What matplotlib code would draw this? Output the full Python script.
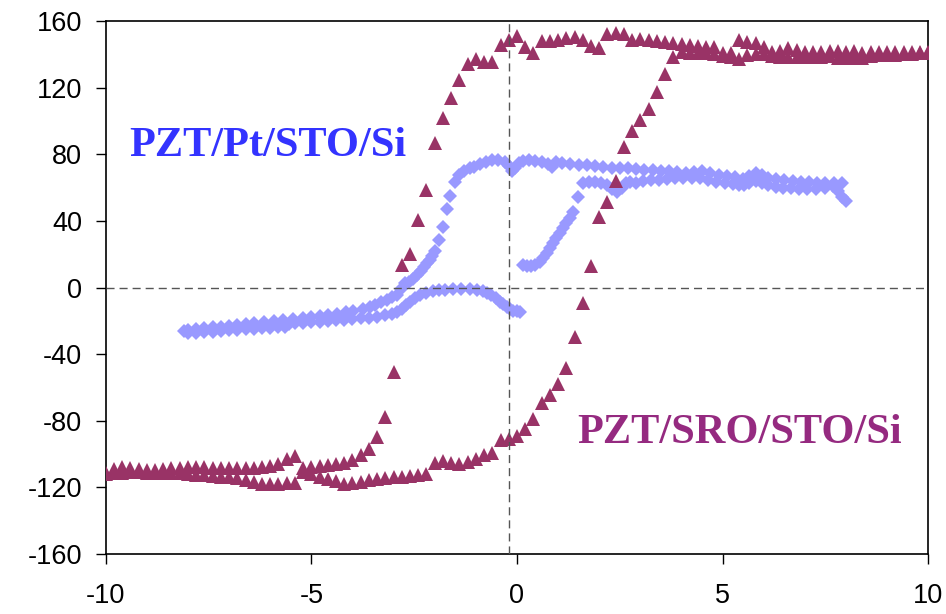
import matplotlib
matplotlib.use("Agg")
import matplotlib.pyplot as plt

plt.rcParams['font.family'] = ['Liberation Sans', 'DejaVu Sans']
plt.rcParams['axes.unicode_minus'] = False

# field sweep shared by both PZT/SRO/STO/Si branches
field = [-10.0, -9.8, -9.6, -9.4, -9.2, -9.0, -8.8, -8.6, -8.4, -8.2,
         -8.0, -7.8, -7.6, -7.4, -7.2, -7.0, -6.8, -6.6, -6.4, -6.2,
         -6.0, -5.8, -5.6, -5.4, -5.2, -5.0, -4.8, -4.6, -4.4, -4.2,
         -4.0, -3.8, -3.6, -3.4, -3.2, -3.0, -2.8, -2.6, -2.4, -2.2,
         -2.0, -1.8, -1.6, -1.4, -1.2, -1.0, -0.8, -0.6, -0.4, -0.2,
         0.0, 0.2, 0.4, 0.6, 0.8, 1.0, 1.2, 1.4, 1.6, 1.8,
         2.0, 2.2, 2.4, 2.6, 2.8, 3.0, 3.2, 3.4, 3.6, 3.8,
         4.0, 4.2, 4.4, 4.6, 4.8, 5.0, 5.2, 5.4, 5.6, 5.8,
         6.0, 6.2, 6.4, 6.6, 6.8, 7.0, 7.2, 7.4, 7.6, 7.8,
         8.0, 8.2, 8.4, 8.6, 8.8, 9.0, 9.2, 9.4, 9.6, 9.8, 10.0]

# PZT/SRO/STO/Si, first branch (switches near -3)
sro_a = [-111.2, -109.2, -107.8, -108.2, -108.8, -109.6, -109.6, -108.8, -108.2, -108.2,
         -107.6, -107.6, -107.6, -108.2, -108.2, -108.2, -108.2, -108.2, -108.2, -107.8,
         -107.0, -106.2, -103.2, -101.2, -108.4, -107.6, -107.2, -106.6, -106.2, -105.2,
         -103.4, -100.4, -96.8, -90.0, -77.6, -50.8, 13.5, 20.1, 40.5, 58.5,
         86.6, 101.6, 113.6, 124.6, 134.0, 137.0, 135.4, 135.4, 145.3, 148.6,
         150.8, 144.6, 140.8, 147.8, 147.8, 148.6, 149.6, 150.6, 148.6, 145.0,
         143.6, 151.9, 152.9, 152.4, 148.8, 149.0, 148.4, 148.2, 147.6, 146.6,
         146.2, 145.6, 145.0, 144.6, 144.4, 140.6, 140.6, 148.6, 147.6, 146.6,
         144.2, 141.6, 142.2, 143.6, 142.6, 141.6, 141.6, 141.6, 142.2, 142.2,
         141.6, 142.2, 140.6, 141.6, 141.6, 141.6, 141.6, 141.6, 141.6, 141.6, 141.6]

# PZT/SRO/STO/Si, second branch (switches near +2)
sro_b = [-112.0, -111.6, -111.2, -111.0, -111.0, -111.2, -111.2, -111.2, -111.4, -111.6,
         -112.0, -112.4, -112.8, -113.2, -113.6, -114.0, -114.6, -115.6, -117.0, -118.0,
         -118.2, -118.0, -117.6, -117.6, -110.6, -112.2, -113.6, -115.2, -116.4, -118.2,
         -117.6, -116.6, -115.6, -115.2, -114.6, -114.0, -113.6, -113.2, -112.6, -112.0,
         -105.6, -104.2, -105.2, -106.0, -104.8, -102.8, -100.8, -99.4, -91.8, -91.0,
         -89.2, -84.8, -79.0, -69.6, -64.5, -58.0, -48.5, -29.9, -9.1, 12.9,
         42.5, 51.5, 64.1, 84.2, 94.2, 100.6, 107.0, 117.6, 128.2, 138.6,
         141.6, 141.0, 140.6, 140.6, 140.0, 139.0, 138.6, 137.0, 139.6, 140.0,
         140.0, 139.2, 138.5, 138.3, 138.3, 138.3, 138.5, 138.6, 138.8, 137.6,
         137.6, 137.6, 138.0, 139.0, 139.6, 139.6, 139.8, 140.0, 140.4, 140.6, 141.0]

# PZT/Pt/STO/Si: rising branch from 0 V
pt_up_x = [0.15, 0.25, 0.35, 0.45, 0.55, 0.63, 0.72, 0.80, 0.88, 0.96,
           1.05, 1.12, 1.20, 1.28, 1.37, 1.49, 1.61, 1.75, 1.90, 2.05,
           2.20, 2.32, 2.42, 2.55, 2.66, 2.75, 2.90, 3.07, 3.25, 3.45,
           3.65, 3.85, 4.04, 4.25, 4.45, 4.65, 4.85, 5.05, 5.26, 5.40,
           5.52, 5.65, 5.80, 5.95, 6.10, 6.30, 6.47, 6.65, 6.85, 7.05,
           7.28, 7.48, 7.68, 7.80, 7.90, 8.00]
pt_up_y = [13.5, 13.0, 13.0, 13.5, 15.5, 18.0, 20.5, 23.5, 26.5, 29.5,
           32.5, 35.5, 38.5, 42.0, 45.5, 54.2, 62.5, 63.5, 63.5, 63.0,
           61.5, 59.0, 57.5, 60.0, 62.5, 63.5, 63.0, 64.0, 64.5, 64.5,
           65.0, 65.5, 65.7, 65.7, 65.5, 64.5, 63.5, 62.5, 62.0, 61.5,
           61.3, 62.5, 64.0, 63.0, 61.5, 60.3, 59.7, 59.5, 59.3, 59.3,
           59.3, 60.0, 60.7, 58.0, 54.5, 52.0]

# PZT/Pt/STO/Si: descending branch from +8 V to -8 V
pt_down_x = [7.90, 7.70, 7.50, 7.30, 7.10, 6.90, 6.70, 6.50, 6.30, 6.10,
             5.95, 5.80, 5.65, 5.50, 5.30, 5.10, 4.90, 4.70, 4.50, 4.30,
             4.10, 3.90, 3.70, 3.50, 3.30, 3.10, 2.90, 2.70, 2.50, 2.30,
             2.10, 1.90, 1.70, 1.50, 1.30, 1.10, 0.95, 0.85, 0.75, 0.60,
             0.45, 0.30, 0.15, 0.05, -0.05, -0.12, -0.20, -0.30, -0.45, -0.60,
             -0.75, -0.90, -1.05, -1.15, -1.30, -1.40, -1.50, -1.63, -1.70, -1.80,
             -1.90, -2.00, -2.06, -2.12, -2.18, -2.25, -2.33, -2.42, -2.52, -2.62,
             -2.72, -2.82, -2.92, -3.05, -3.17, -3.30, -3.45, -3.57, -3.75, -3.98,
             -4.15, -4.38, -4.60, -4.79, -5.00, -5.20, -5.45, -5.68, -5.90, -6.15,
             -6.40, -6.60, -6.80, -7.00, -7.20, -7.40, -7.60, -7.80, -8.00, -8.10]
pt_down_y = [62.5, 63.0, 63.0, 63.0, 63.2, 63.3, 64.0, 64.8, 65.3, 65.7,
             67.5, 69.0, 67.0, 65.3, 66.2, 67.0, 67.8, 68.5, 69.8, 69.5,
             69.0, 69.3, 69.8, 70.2, 70.3, 70.8, 71.3, 71.5, 72.0, 71.8,
             72.3, 72.8, 73.3, 73.7, 74.3, 75.0, 75.3, 72.5, 74.0, 75.5,
             76.2, 76.4, 76.0, 75.0, 72.0, 70.0, 73.0, 75.5, 76.4, 76.5,
             75.5, 74.0, 72.5, 71.5, 70.0, 67.5, 63.5, 55.2, 47.0, 36.5,
             28.3, 22.0, 19.0, 16.8, 14.5, 12.5, 10.0, 7.5, 5.0, 3.5,
             2.5, -1.0, -4.5, -6.0, -7.5, -8.8, -10.3, -11.5, -12.8, -14.0,
             -14.8, -15.8, -16.5, -17.2, -17.8, -18.5, -19.2, -19.8, -20.3, -21.0,
             -21.6, -22.0, -22.5, -23.0, -23.5, -24.0, -24.5, -25.0, -25.5, -26.0]

# PZT/Pt/STO/Si: return branch from -8 V back to 0 V
pt_back_x = [-8.00, -7.80, -7.60, -7.40, -7.20, -7.00, -6.80, -6.60, -6.40, -6.20,
             -6.00, -5.80, -5.65, -5.55, -5.40, -5.20, -5.00, -4.80, -4.60, -4.40,
             -4.20, -4.00, -3.80, -3.60, -3.40, -3.20, -3.05, -2.92, -2.80, -2.70,
             -2.60, -2.48, -2.36, -2.20, -2.04, -1.90, -1.75, -1.55, -1.35, -1.14,
             -0.98, -0.82, -0.72, -0.62, -0.52, -0.41, -0.33, -0.25, -0.17, -0.09,
             0.00, 0.07]
pt_back_y = [-27.5, -27.2, -26.8, -26.5, -26.2, -25.8, -25.5, -25.2, -24.9, -24.6,
             -24.3, -24.0, -23.5, -22.0, -21.5, -21.2, -20.8, -20.5, -20.2, -19.8,
             -19.4, -19.0, -18.6, -18.2, -17.8, -16.8, -15.8, -15.0, -13.0, -10.8,
             -8.5, -6.3, -4.5, -3.0, -2.1, -1.6, -1.3, -1.1, -1.1, -1.1,
             -1.4, -1.9, -3.0, -4.5, -6.5, -8.5, -10.2, -11.9, -13.0, -13.9,
             -14.3, -14.5]

pt_color = '#9999FF'
sro_color = '#993366'

fig = plt.figure(figsize=(9.46, 6.14), dpi=100)
ax = fig.add_axes([0.1117, 0.0977, 0.8696, 0.8681])

for xs, ys in [(pt_up_x, pt_up_y), (pt_down_x, pt_down_y), (pt_back_x, pt_back_y)]:
    ax.plot(xs, ys, linestyle='none', marker='D', markersize=7.6,
            color=pt_color, markeredgewidth=0, zorder=2)

for ys in [sro_a, sro_b]:
    ax.plot(field, ys, linestyle='none', marker='^', markersize=9.6,
            color=sro_color, markeredgewidth=0, zorder=3)

# dashed cross-hair lines
ax.axhline(0, color='#555555', lw=1.0, dashes=(5.8, 3.6), zorder=4)
ax.axvline(-0.2, color='#555555', lw=1.0, dashes=(5.8, 3.6), zorder=4)

ax.set_xlim(-10, 10)
ax.set_ylim(-160, 160)
ax.set_xticks([-10, -5, 0, 5, 10])
ax.set_yticks(range(-160, 161, 40))
ax.tick_params(axis='both', direction='out', length=7, width=1.0,
               labelsize=19.5, colors='black')
ax.tick_params(axis='y', pad=10)
ax.tick_params(axis='x', pad=14)
for s in ax.spines.values():
    s.set_linewidth(1.2)
    s.set_color('black')

ax.text(-9.43, 79.1, 'PZT/Pt/STO/Si', family=['Liberation Serif', 'DejaVu Serif'],
        fontweight='bold', fontsize=30.5, color='#3333FF', ha='left', va='baseline')
ax.text(1.46, -93.4, 'PZT/SRO/STO/Si', family=['Liberation Serif', 'DejaVu Serif'],
        fontweight='bold', fontsize=30.5, color='#952A80', ha='left', va='baseline')

fig.savefig('out.png', dpi=100)
